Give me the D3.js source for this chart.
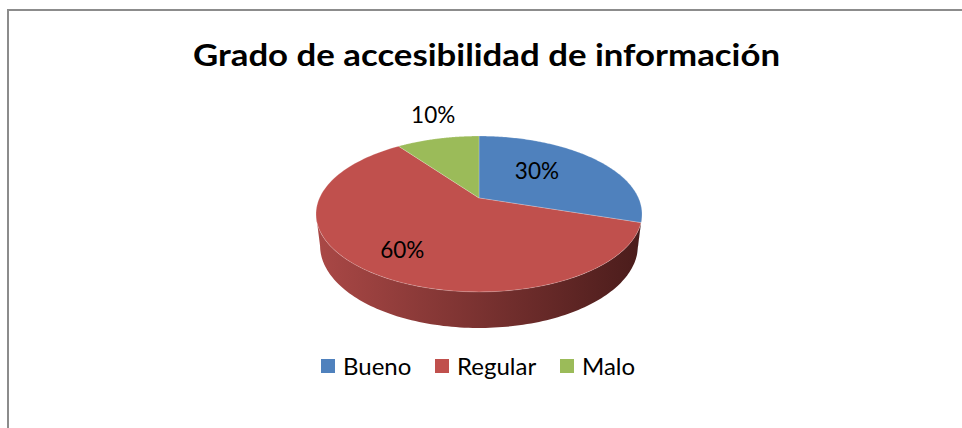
<!DOCTYPE html>
<html><head><meta charset="utf-8">
<script src="https://cdn.jsdelivr.net/npm/d3@7"></script>
<style>html,body{margin:0;padding:0;background:#fff;}svg{display:block;}</style>
</head><body>
<svg id="chart" width="962" height="428"></svg>
<script>
const title = "Grado de accesibilidad de información";
const categories = ["Bueno", "Regular", "Malo"];
const values = [30, 60, 10];
const labels = ["30%", "60%", "10%"];
const colors = ["#4F81BD", "#C0504D", "#9BBB59"];
const sideDark = ["#24406a", "#4a1c1b", "#4d6128"];
const sideLight = ["#4a77ad", "#aa4846", "#8eab50"];

const svg = d3.select("#chart");
const W = 962, H = 428;
svg.append("rect").attr("width", W).attr("height", H).attr("fill", "#fff");
svg.append("path").attr("d", "M8,430 L8,10 L964,10").attr("fill", "none")
  .attr("stroke", "#8c8c8c").attr("stroke-width", 2);

svg.append("text").attr("x", 486.5).attr("y", 66).attr("text-anchor", "middle")
  .attr("font-family", "Lato, 'Open Sans', sans-serif").attr("font-weight", "bold")
  .attr("font-size", 30).attr("textLength", 587).attr("lengthAdjust", "spacingAndGlyphs")
  .attr("fill", "#000").text(title);

// perspective projection of a 3D pie
const cx = 479, cy = 198, F = 687.6, Dist = 4.31, phi = 27.9 * Math.PI / 180, thick = 0.226;
const cs = Math.cos(phi), sn = Math.sin(phi);
function proj(a, z, r = 1) {
  const u = r * Math.sin(a), v = -r * Math.cos(a);
  const X = u, Y = -v * sn + z * cs, Z = Dist - v * cs - z * sn;
  return [cx + F * X / Z, cy - F * Y / Z];
}
const pie = d3.pie().sort(null).value(d => d)(values);
const aVis0 = Math.acos(-cs / Dist), aVis1 = 2 * Math.PI - aVis0;

const defs = svg.append("defs");
const gSide = svg.append("g"), gTop = svg.append("g"), gLab = svg.append("g");
const N = 120;
pie.forEach((s, i) => {
  const a0 = Math.max(s.startAngle, aVis0), a1 = Math.min(s.endAngle, aVis1);
  if (a1 > a0) {
    const gid = "side" + i;
    const lg = defs.append("linearGradient").attr("id", gid).attr("gradientUnits", "userSpaceOnUse")
      .attr("x1", proj(aVis1, 0)[0]).attr("x2", proj(aVis0, 0)[0]).attr("y1", 0).attr("y2", 0);
    lg.append("stop").attr("offset", 0).attr("stop-color", sideLight[i]);
    lg.append("stop").attr("offset", 1).attr("stop-color", sideDark[i]);
    const pts = [];
    for (let k = 0; k <= N; k++) pts.push(proj(a0 + (a1 - a0) * k / N, 0));
    for (let k = N; k >= 0; k--) pts.push(proj(a0 + (a1 - a0) * k / N, -thick));
    gSide.append("path").attr("d", d3.line()(pts) + "Z").attr("fill", `url(#${gid})`);
  }
  const pts = [proj(0, 0, 0)];
  for (let k = 0; k <= N; k++) pts.push(proj(s.startAngle + (s.endAngle - s.startAngle) * k / N, 0));
  gTop.append("path").attr("d", d3.line()(pts) + "Z").attr("fill", colors[i])
    .attr("stroke", "rgba(255,255,255,0.35)").attr("stroke-width", 0.6);
});

// data labels
const labR = [0.55, 0.72, 1.42];
const labDx = [-3, 0, 9];
const labDy = [-1, 3, -4];
pie.forEach((s, i) => {
  const mid = (s.startAngle + s.endAngle) / 2 + (i === 0 ? -0.1 : 0);
  const p = proj(mid, 0, labR[i]);
  gLab.append("text").attr("x", p[0] + labDx[i]).attr("y", p[1] + 7.5 + labDy[i]).attr("text-anchor", "middle")
    .attr("font-family", "Lato, 'Open Sans', sans-serif").attr("font-size", 22.5)
    .attr("fill", "#000").text(labels[i]);
});

// legend
const legX = [321, 435, 560];
const leg = svg.append("g");
categories.forEach((c, i) => {
  leg.append("rect").attr("x", legX[i]).attr("y", 359).attr("width", 14).attr("height", 14).attr("fill", colors[i]);
  leg.append("text").attr("x", legX[i] + 22).attr("y", 375)
    .attr("font-family", "Lato, 'Open Sans', sans-serif").attr("font-size", 24)
    .attr("fill", "#000").text(c);
});
</script>
</body></html>
